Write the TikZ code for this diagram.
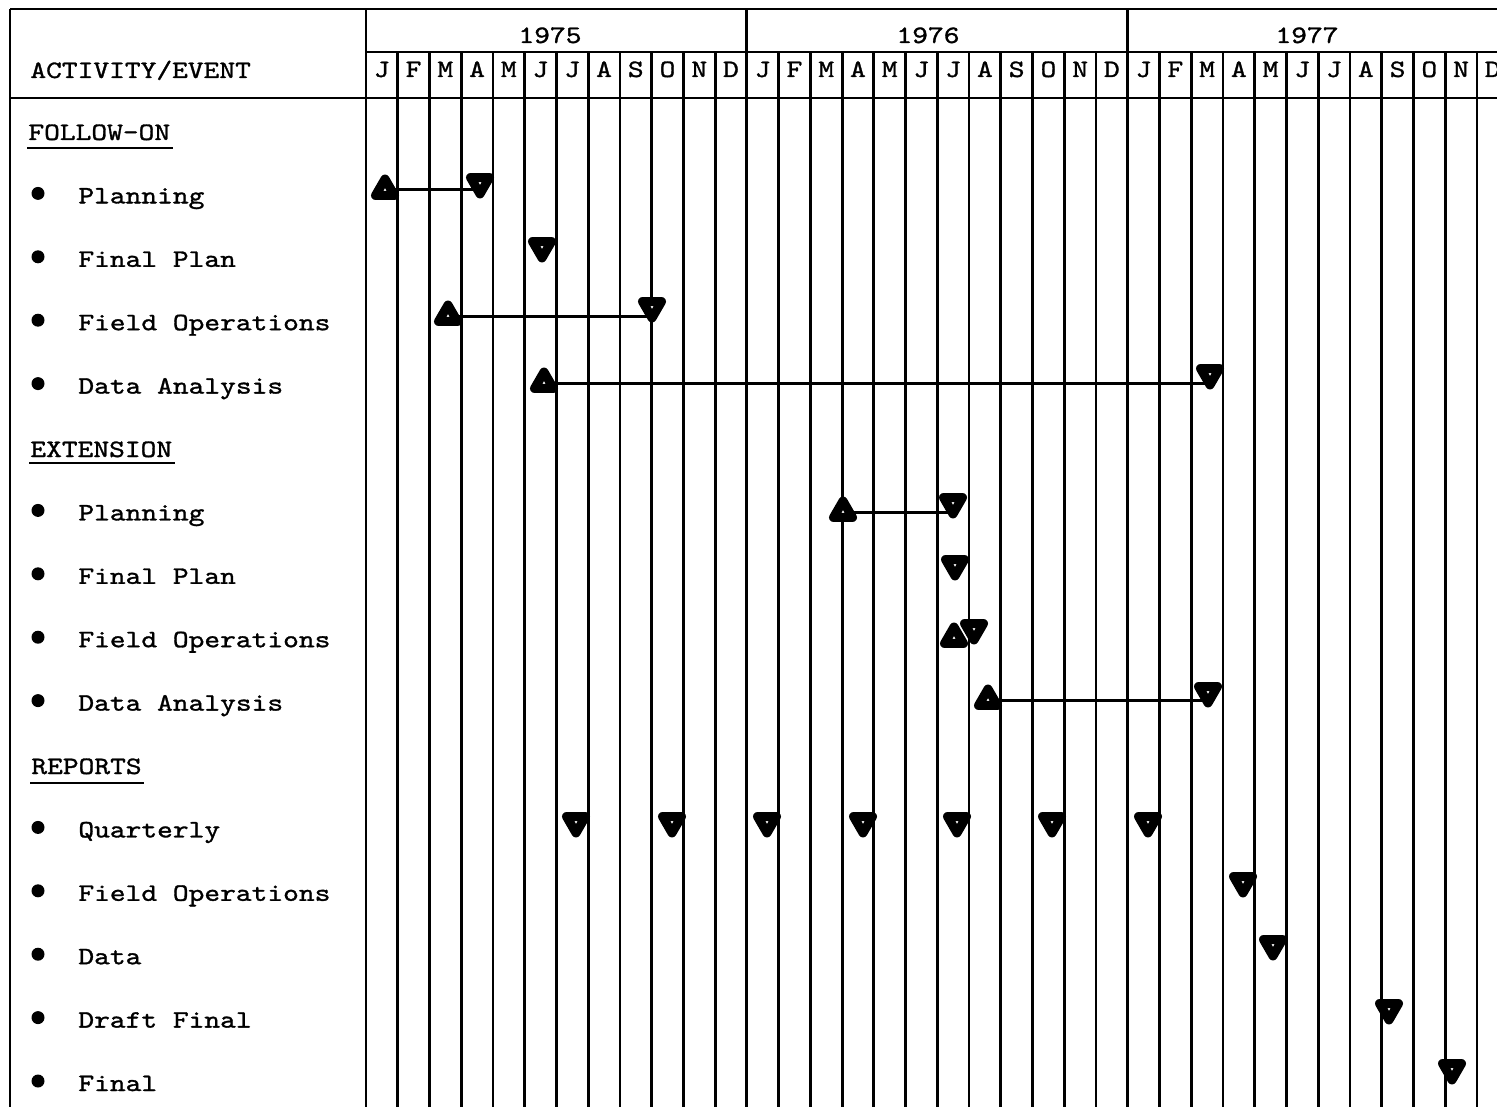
\documentclass[tikz,border=0pt]{standalone}
\usepackage{fontspec}
\newfontfamily\tw[FakeStretch=1.2,FakeBold=1.2]{lmmono10-regular.otf}
\usetikzlibrary{shapes.geometric,calc,backgrounds}
\begin{document}
\begin{tikzpicture}[x=0.5pt,y=-0.5pt,
  grid/.style={line width=1.4pt},
  txt/.style={font=\tw\fontsize{12.5}{14}\selectfont, inner sep=0pt, anchor=base west},
  ctxt/.style={font=\tw\fontsize{12.5}{14}\selectfont, inner sep=0pt, anchor=base},
  dot/.style={circle, fill=black, inner sep=0pt, minimum size=6.5pt},
  up/.style={regular polygon, regular polygon sides=3, draw=black, fill=white,
    line width=4.5pt, line join=round, inner sep=0pt, outer sep=0pt, minimum size=10.97pt},
  dn/.style={up, shape border rotate=180},
  bar/.style={line width=1.5pt},
  uline/.style={line width=1.1pt}]
\useasboundingbox (0,0) rectangle (1497,1107);
\clip (0,0) rectangle (1497,1107);

% frame
\draw[grid] (10,9) -- (1497,9);
\draw[grid] (366,52) -- (1497,52);
\draw[grid] (10,98) -- (1497,98);
\draw[grid] (10,9) -- (10,1107);
\draw[grid] (366,9) -- (366,1107);
\foreach \k in {1,...,35}{
  \pgfmathsetmacro{\xx}{366+\k*31.74}
  \ifnum\k=12 \draw[grid] (\xx,9) -- (\xx,1107);
  \else\ifnum\k=24 \draw[grid] (\xx,9) -- (\xx,1107);
  \else \draw[grid] (\xx,52) -- (\xx,1107);\fi\fi
}

% header text
\node[txt] (hdr) at (30,78) {ACTIVITY/EVENT};
\node[ctxt] (y75) at (550,43) {1975};
\node[ctxt] (y76) at (928,43) {1976};
\node[ctxt] (y77) at (1307,43) {1977};
\foreach \m [count=\k from 0] in {J,F,M,A,M,J,J,A,S,O,N,D,J,F,M,A,M,J,J,A,S,O,N,D,J,F,M,A,M,J,J,A,S,O,N,D}{
  \node[ctxt] (mon\k) at ({366+(\k+0.5)*31.74},77) {\m};
}

% left column
\node[txt] (s1) at (28,140) {FOLLOW-ON};
\draw[uline] ($(s1.base west)+(-1,8)$) -- ($(s1.base east)+(2,8)$);
\node[txt] (s2) at (30,457) {EXTENSION};
\draw[uline] ($(s2.base west)+(-1,6)$) -- ($(s2.base east)+(2,6)$);
\node[txt] (s3) at (31,774) {REPORTS};
\draw[uline] ($(s3.base west)+(-1,9)$) -- ($(s3.base east)+(2,9)$);

\foreach \t/\b [count=\i] in {Planning/203.4, Final Plan/266.8, Field Operations/330.2, Data Analysis/393.6,
  Planning/520.4, Final Plan/583.8, Field Operations/647.2, Data Analysis/710.6,
  Quarterly/837.4, Field Operations/900.8, Data/964.2, Draft Final/1027.6, Final/1091}{
  \node[dot] (bul\i) at (38,\b-10) {};
  \node[txt] (itm\i) at (78,\b) {\t};
}

% markers
\node[up] (fpA) at (385,190) {};
\node[dn] (fpB) at (480,183) {};
\node[dn] (ffB) at (542,247) {};
\node[up] (foA) at (448,316) {};
\node[dn] (foB) at (652,307) {};
\node[up] (fdA) at (544,383) {};
\node[dn] (fdB) at (1210,374) {};

\node[up] (epA) at (843,512) {};
\node[dn] (epB) at (953,503) {};
\node[dn] (efB) at (955,565) {};
\node[up] (eoA) at (954,638) {};
\node[dn] (eoB) at (974,629) {};
\node[up] (edA) at (988,700) {};
\node[dn] (edB) at (1208,692) {};

\foreach \x [count=\q] in {576,672,767,863,957,1052,1148}{
  \node[dn] (qr\q) at (\x,822) {};
}
\node[dn] (rfB) at (1243,882) {};
\node[dn] (rdB) at (1273,945) {};
\node[dn] (rxB) at (1389,1009) {};
\node[dn] (rzB) at (1452,1069) {};

% connectors
\begin{scope}[on background layer]
\draw[bar] (fpA.center) -- (fpA.center -| fpB.center);
\draw[bar] (foA.center) -- (foA.center -| foB.center);
\draw[bar] (fdA.center) -- (fdA.center -| fdB.center);
\draw[bar] (epA.center) -- (epA.center -| epB.center);
\draw[bar] (edA.center) -- (edA.center -| edB.center);
\end{scope}
\end{tikzpicture}
\end{document}
